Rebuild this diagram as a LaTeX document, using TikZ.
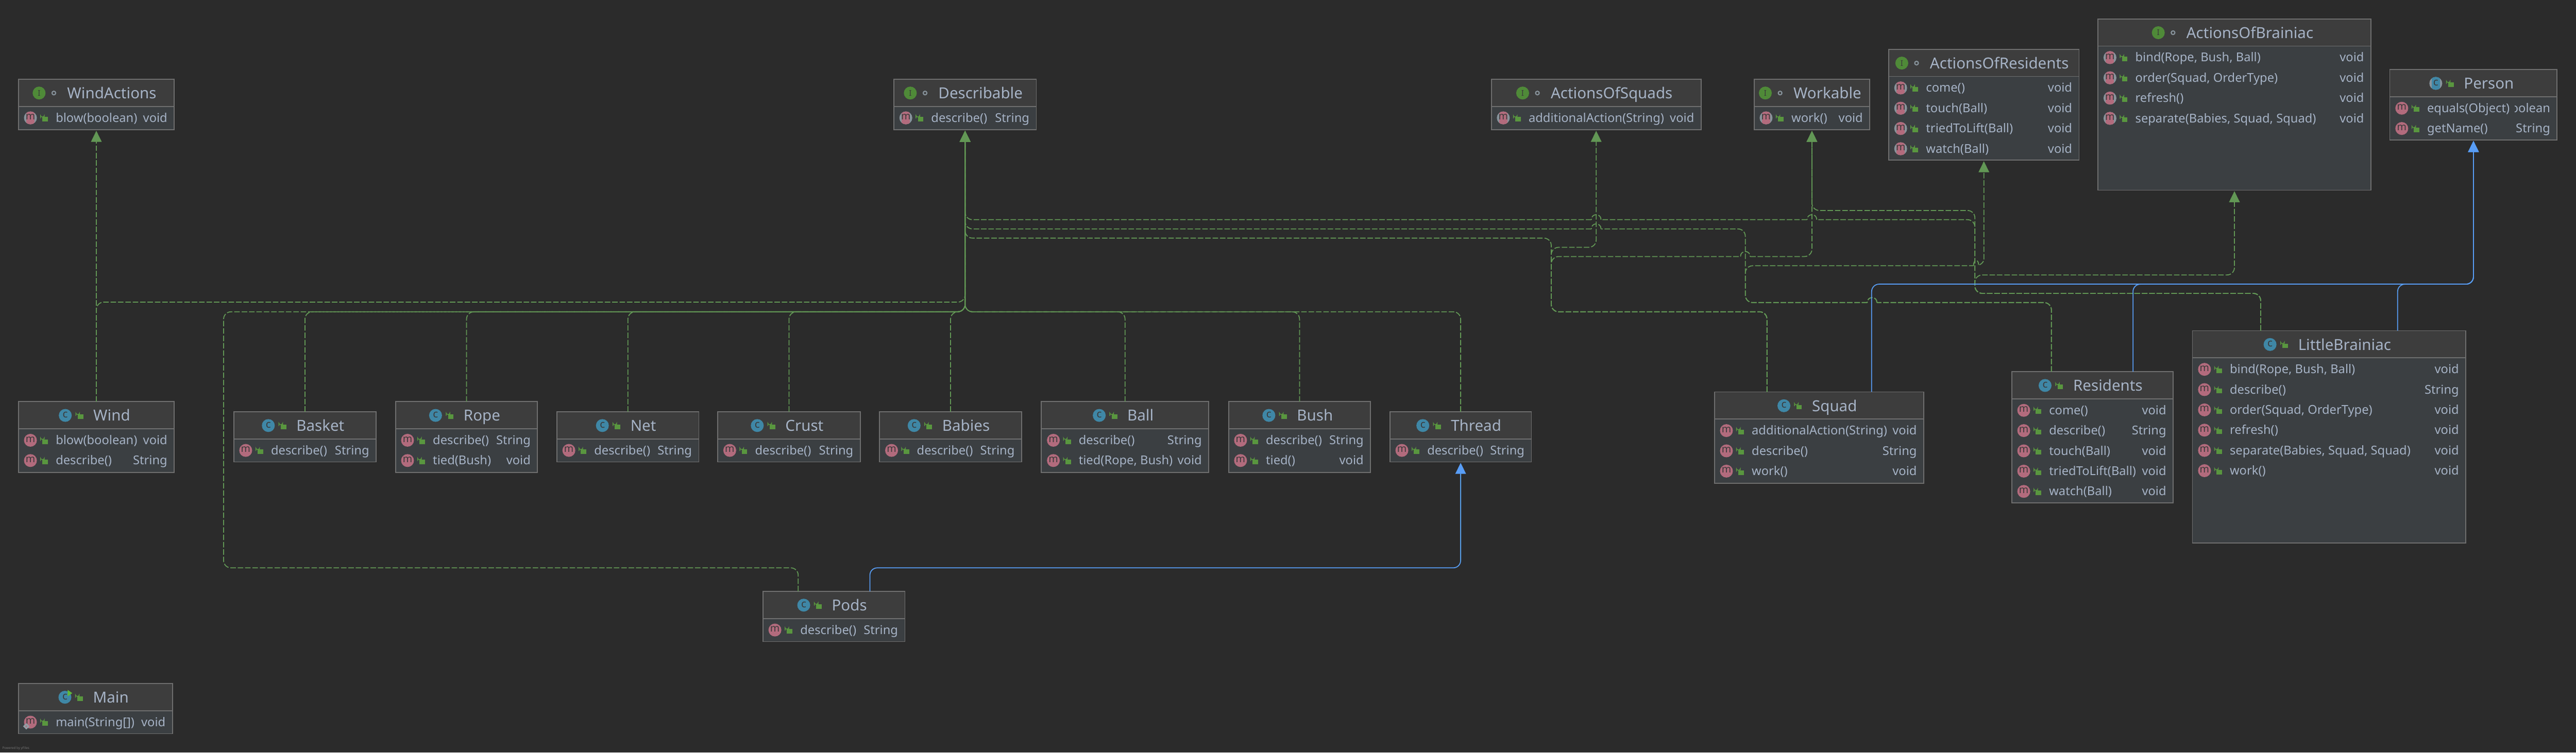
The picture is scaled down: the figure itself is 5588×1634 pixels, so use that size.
\documentclass[tikz,border=0pt]{standalone}
\usepackage{fontspec}
\setmainfont{Noto Sans}
\usetikzlibrary{arrows.meta,calc}
\definecolor{bg}{HTML}{2B2B2B}
\definecolor{headfill}{HTML}{3D3D3D}
\definecolor{bodyfill}{HTML}{3B3F42}
\definecolor{edge}{HTML}{6F6F6F}
\definecolor{txt}{HTML}{A6B3C6}
\definecolor{implgreen}{HTML}{629755}
\definecolor{extblue}{HTML}{589DF6}
\definecolor{lockgreen}{HTML}{59963F}
\definecolor{mpink}{HTML}{B26B7D}
\definecolor{cteal}{HTML}{3F87A6}
\definecolor{igreen}{HTML}{4F8A38}
\definecolor{absgrey}{HTML}{87939B}
\definecolor{glyph}{HTML}{3A3A3A}
\definecolor{rungreen}{HTML}{5FB83A}
\newcommand{\titlefont}{\fontsize{33}{36}\selectfont}
\newcommand{\memberfont}{\fontsize{26.5}{30}\selectfont}
\newdimen\ttlw
\newbox\ttlbox
\newcount\rowno
\def\cname{}\def\bxl{0}\def\bxr{0}\def\bty{0}
\tikzset{
  x=1pt,y=-1pt,
  classbox/.style={draw=edge,line width=2pt,fill=bodyfill,rectangle,inner sep=0pt,outer sep=0pt,anchor=north west},
  ttl/.style={text=txt,inner sep=0pt,outer sep=0pt,anchor=base west,font=\titlefont},
  mem/.style={text=txt,inner sep=0pt,outer sep=0pt,anchor=base west,font=\memberfont},
  memr/.style={text=txt,inner sep=0pt,outer sep=0pt,anchor=base east,font=\memberfont},
  impl/.style={draw=implgreen,line width=2pt,dash pattern=on 12pt off 4pt,rounded corners=16pt,-{Triangle[length=24pt,width=23pt,fill=implgreen]},shorten >=2pt},
  ext/.style={draw=extblue,line width=2pt,rounded corners=16pt,-{Triangle[length=24pt,width=23pt,fill=extblue]},shorten >=2pt},
  hopL/.style 2 args={insert path={-- (#1+10.5,#2) (#1+10.5,#2) .. controls (#1+10.5,#2-14.5) and (#1-10.5,#2-14.5) .. (#1-10.5,#2) (#1-10.5,#2)}},
  hopR/.style 2 args={insert path={-- (#1-10.5,#2) (#1-10.5,#2) .. controls (#1-10.5,#2-14.5) and (#1+10.5,#2-14.5) .. (#1+10.5,#2) (#1+10.5,#2)}},
}
% lock icon: left edge and vertical centre
\newcommand{\lockicon}[2]{%
  \fill[lockgreen] (#1+4,#2-2) rectangle (#1+16,#2+8);
  \draw[lockgreen,line width=1.6pt] (#1,#2+1) -- (#1,#2-5) arc[start angle=180,end angle=0,x radius=4,y radius=3] -- (#1+8,#2-2);
}
% class box: name, kind(c,a,i,r), x1,y1,x2,y2, title
\newcommand{\umlbox}[7]{%
  \def\cname{#1}\def\bxl{#3}\def\bxr{#5}\def\bty{#4}\global\rowno=0
  \node[classbox,minimum width=#5-#3,minimum height=#6-#4] (#1) at (#3,#4) {};
  \fill[headfill] (#3+1,#4+1) rectangle (#5-1,#4+58);
  \draw[edge,line width=2pt] (#3,#4+59) -- (#5,#4+59);
  \setbox\ttlbox=\hbox{\pgfinterruptpicture\titlefont #7\endpgfinterruptpicture}%
  \ttlw=\wd\ttlbox
  \pgfmathsetmacro{\tstart}{(#3+#5)/2-4-(\the\ttlw+75)/2+75}
  \node[ttl] (#1-title) at (\tstart,#4+42) {#7};
  \def\kind{#2}%
  \pgfmathsetmacro{\icx}{\tstart-61}
  \def\tmpc{c}\def\tmpa{a}\def\tmpi{i}\def\tmpr{r}%
  \ifx\kind\tmpi
    \fill[igreen] (\icx,#4+30) circle[radius=14];
    \node[inner sep=0pt,text=glyph,font=\rmfamily\fontsize{17}{17}\selectfont] (#1-icon) at (\icx,#4+30) {I};
    \draw[absgrey,line width=2.4pt] (\icx+32,#4+30) circle[radius=4];
  \else
    \ifx\kind\tmpa
      \fill[absgrey] (\icx,#4+30) circle[radius=14];
      \begin{scope}\clip (\icx,#4+30) circle[radius=14];
      \fill[cteal] (\icx-9,#4+14) rectangle (\icx+9,#4+46);\end{scope}
    \else
      \fill[cteal] (\icx,#4+30) circle[radius=14];
    \fi
    \node[inner sep=0pt,text=glyph,font=\fontsize{23}{23}\selectfont] (#1-icon) at (\icx,#4+29) {c};
    \ifx\kind\tmpr
      \fill[rungreen] (\icx+6,#4+14) -- (\icx+16,#4+21) -- (\icx+6,#4+28) -- cycle;
    \fi
    \lockicon{\tstart-38}{#4+30}
  \fi
}
% row: kind(m,a,s,b), name, type
\newcommand{\mrow}[3]{%
  \global\advance\rowno by 1
  \pgfmathsetmacro{\rcy}{\bty+84+44*(\the\rowno-1)}
  \def\kind{#1}\def\tmpa{a}\def\tmps{s}\def\tmpb{b}%
  \ifx\kind\tmpa
    \fill[absgrey] (\bxl+26,\rcy) circle[radius=14];
    \begin{scope}\clip (\bxl+26,\rcy) circle[radius=14];
    \fill[mpink] (\bxl+17,\rcy-16) rectangle (\bxl+35,\rcy+16);\end{scope}
  \else
    \fill[mpink] (\bxl+26,\rcy) circle[radius=14];
  \fi
  \node[inner sep=0pt,text=glyph,font=\fontsize{22}{22}\selectfont] (\cname-r\the\rowno-icon) at (\bxl+26,\rcy-2) {m};
  \ifx\kind\tmps
    \fill[absgrey!90!white] (\bxl+17,\rcy+2) -- (\bxl+24,\rcy+9) -- (\bxl+17,\rcy+16) -- (\bxl+10,\rcy+9) -- cycle;
    \fill[mpink] (\bxl+17,\rcy+9) circle[radius=2];
  \fi
  \lockicon{\bxl+48}{\rcy}
  \node[mem] (\cname-r\the\rowno-name) at (\bxl+81,\rcy+9) {#2};
  \ifx\kind\tmpb
    \begin{scope}\clip (\bxl+272,\rcy-22) rectangle (\bxr-1,\rcy+22);
    \node[memr] (\cname-r\the\rowno-type) at (\bxr-15,\rcy+9) {#3};\end{scope}
  \else
    \node[memr] (\cname-r\the\rowno-type) at (\bxr-15,\rcy+9) {#3};
  \fi
}
\begin{document}
\begin{tikzpicture}
\useasboundingbox (0,0) rectangle (5588,1634);
\fill[bg] (0,0) rectangle (5588,1634);

\umlbox{windactions}{i}{40}{172}{378}{282}{WindActions}
\mrow{a}{blow(boolean)}{void}
\umlbox{describable}{i}{1939}{172}{2248}{282}{Describable}
\mrow{a}{describe()}{String}
\umlbox{aos}{i}{3235}{172}{3690}{282}{ActionsOfSquads}
\mrow{a}{additionalAction(String)}{void}
\umlbox{workable}{i}{3805}{172}{4056}{282}{Workable}
\mrow{a}{work()}{void}
\umlbox{aor}{i}{4097}{107}{4510}{348}{ActionsOfResidents}
\mrow{a}{come()}{void}
\mrow{a}{touch(Ball)}{void}
\mrow{a}{triedToLift(Ball)}{void}
\mrow{a}{watch(Ball)}{void}
\umlbox{aob}{i}{4551}{41}{5143}{413}{ActionsOfBrainiac}
\mrow{a}{bind(Rope, Bush, Ball)}{void}
\mrow{a}{order(Squad, OrderType)}{void}
\mrow{a}{refresh()}{void}
\mrow{a}{separate(Babies, Squad, Squad)}{void}
\umlbox{person}{a}{5184}{151}{5547}{304}{Person}
\mrow{b}{equals(Object)}{boolean}
\mrow{m}{getName()}{String}

\umlbox{wind}{c}{40}{872}{378}{1026}{Wind}
\mrow{m}{blow(boolean)}{void}
\mrow{m}{describe()}{String}
\umlbox{basket}{c}{507}{894}{816}{1003}{Basket}
\mrow{m}{describe()}{String}
\umlbox{rope}{c}{858}{872}{1166}{1026}{Rope}
\mrow{m}{describe()}{String}
\mrow{m}{tied(Bush)}{void}
\umlbox{net}{c}{1208}{894}{1516}{1003}{Net}
\mrow{m}{describe()}{String}
\umlbox{crust}{c}{1557}{894}{1866}{1003}{Crust}
\mrow{m}{describe()}{String}
\umlbox{babies}{c}{1908}{894}{2216}{1003}{Babies}
\mrow{m}{describe()}{String}
\umlbox{ball}{c}{2259}{872}{2622}{1026}{Ball}
\mrow{m}{describe()}{String}
\mrow{m}{tied(Rope, Bush)}{void}
\umlbox{bush}{c}{2665}{872}{2973}{1026}{Bush}
\mrow{m}{describe()}{String}
\mrow{m}{tied()}{void}
\umlbox{thread}{c}{3015}{894}{3322}{1003}{Thread}
\mrow{m}{describe()}{String}
\umlbox{pods}{c}{1655}{1284}{1963}{1393}{Pods}
\mrow{m}{describe()}{String}
\umlbox{mainclass}{r}{40}{1484}{374}{1593}{Main}
\mrow{s}{main(String[])}{void}

\umlbox{squad}{c}{3719}{851}{4173}{1049}{Squad}
\mrow{m}{additionalAction(String)}{void}
\mrow{m}{describe()}{String}
\mrow{m}{work()}{void}
\umlbox{residents}{c}{4364}{807}{4714}{1092}{Residents}
\mrow{m}{come()}{void}
\mrow{m}{describe()}{String}
\mrow{m}{touch(Ball)}{void}
\mrow{m}{triedToLift(Ball)}{void}
\mrow{m}{watch(Ball)}{void}
\umlbox{littlebrainiac}{c}{4756}{718}{5349}{1179}{LittleBrainiac}
\mrow{m}{bind(Rope, Bush, Ball)}{void}
\mrow{m}{describe()}{String}
\mrow{m}{order(Squad, OrderType)}{void}
\mrow{m}{refresh()}{void}
\mrow{m}{separate(Babies, Squad, Squad)}{void}
\mrow{m}{work()}{void}

\node[inner sep=0pt,anchor=base west,text=white!35!bg,font=\fontsize{7}{8}\selectfont] (yfiles) at (5,1627) {Powered by yFiles};

% realizations of Describable, lower bus
\draw[impl] (wind.north) -- (windactions.south);
\draw[impl] (wind.north) |- (2093.5,656) -- (describable.south);
\draw[impl] (basket.north) |- (2093.5,677) -- (describable.south);
\draw[impl] (rope.north) |- (2093.5,677) -- (describable.south);
\draw[impl] (net.north) |- (2093.5,677) -- (describable.south);
\draw[impl] (crust.north) |- (2093.5,677) -- (describable.south);
\draw[impl] (babies.north) |- (2093.5,677) -- (describable.south);
\draw[impl] (ball.north) |- (2093.5,677) -- (describable.south);
\draw[impl] (bush.north) |- (2093.5,677) -- (describable.south);
\draw[impl] (thread.north) |- (2093.5,677) -- (describable.south);
\draw[impl] ([xshift=-77.5pt]pods.north) |- (485,1233) |- (2093.5,677) -- (describable.south);

% Squad
\draw[impl] ([xshift=-113pt]squad.north) |- (3365,677) |- (2093.5,517) -- (describable.south);
\draw[impl] ([xshift=-113pt]squad.north) |- (3365,677) |- (3462.5,537) -- (aos.south);
\draw[impl] ([xshift=-113pt]squad.north) |- (3365,677) |- (3700,557) [hopR={3786}{557}] -- (3930.5,557) -- (workable.south);

% Residents
\draw[impl] ([xshift=-89pt]residents.north) |- (4150,657) [hopL={4061}{657}] -- (3786,657) |- (3600,497) [hopL={3462.5}{497}] -- (2093.5,497) -- (describable.south);
\draw[impl] ([xshift=-89pt]residents.north) |- (4150,657) [hopL={4061}{657}] -- (3786,657) |- (4281,577) (4281,577) .. controls (4281,562) and (4292,562) .. (4292,575) (4294,575) .. controls (4300,573) and (4303.5,565) .. (4303.5,550) -- (aor.south);

% LittleBrainiac
\draw[impl] ([xshift=-148.5pt]littlebrainiac.north) |- (4284,637) |- (4847,597) -- (aob.south);
\draw[impl] ([xshift=-148.5pt]littlebrainiac.north) |- (4284,637) |- (3930.5,457) -- (workable.south);
\draw[impl] ([xshift=-148.5pt]littlebrainiac.north) |- (4284,637) |- (4100,477) [hopL={3930.5}{477}] -- (3700,477) [hopL={3462.5}{477}] -- (2093.5,477) -- (describable.south);

% extends
\draw[ext] ([xshift=114pt]squad.north) |- (5365.5,617) -- (person.south);
\draw[ext] ([xshift=88pt]residents.north) |- (5365.5,617) -- (person.south);
\draw[ext] ([xshift=148.5pt]littlebrainiac.north) |- (5365.5,617) -- (person.south);
\draw[ext] ([xshift=78pt]pods.north) |- (3168.5,1233) -- (thread.south);
\end{tikzpicture}
\end{document}
